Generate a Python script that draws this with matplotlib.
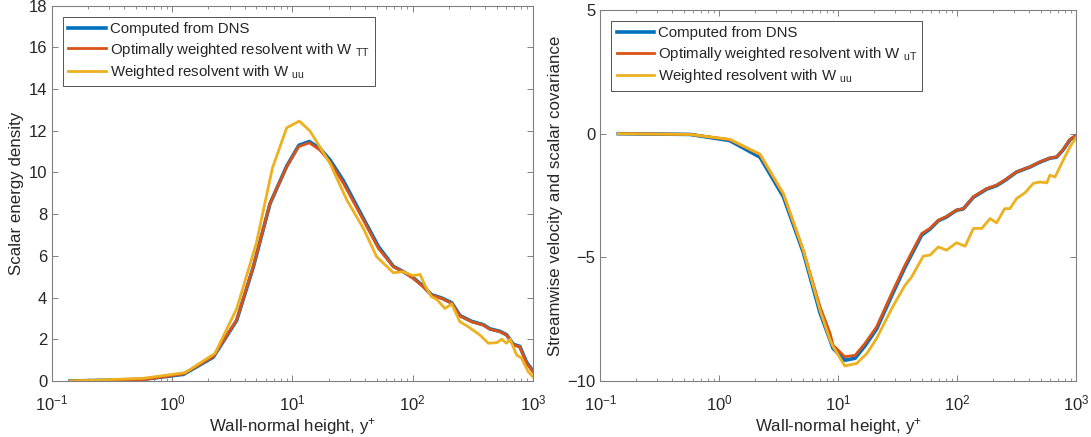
import numpy as np
import matplotlib
matplotlib.use('Agg')
import matplotlib.pyplot as plt
from matplotlib.ticker import LogLocator, NullFormatter

plt.rcParams['font.family'] = ['Liberation Sans', 'DejaVu Sans']
plt.rcParams['mathtext.fontset'] = 'custom'
plt.rcParams['mathtext.rm'] = 'Liberation Sans'
plt.rcParams['mathtext.it'] = 'Liberation Sans'
plt.rcParams['mathtext.default'] = 'regular'

# ---- panel a: scalar energy density ----
y_dns_a = [0.141, 0.57, 1.24, 2.19, 3.43, 4.72, 6.5, 8.95, 11.3, 13.8, 16.9, 20.5, 26.5,
           38.8, 51.8, 68.9, 83, 101, 122, 143, 174, 211, 247, 309, 386, 439, 532, 603,
           686, 777, 885, 1000]
e_dns = [0.0, 0.08, 0.32, 1.14, 2.9, 5.46, 8.5, 10.3, 11.3, 11.48, 11.15, 10.6, 9.6,
         7.8, 6.45, 5.5, 5.25, 4.95, 4.55, 4.14, 3.98, 3.75, 3.14, 2.86, 2.7, 2.5, 2.38,
         2.22, 1.76, 1.66, 0.9, 0.48]
y_tt_a = [0.141, 0.57, 1.24, 2.19, 3.43, 4.72, 6.5, 8.95, 11.2, 13.8, 16.9, 20.5, 26.5,
          38.8, 51.8, 68.9, 83, 101, 122, 143, 174, 211, 247, 309, 386, 439, 532, 603,
          686, 777, 885, 1000]
e_tt = [0.0, 0.06, 0.34, 1.17, 2.92, 5.48, 8.52, 10.27, 11.23, 11.42, 11.07, 10.51, 9.48,
        7.72, 6.36, 5.48, 5.24, 4.92, 4.52, 4.12, 3.96, 3.72, 3.12, 2.84, 2.68, 2.48, 2.36,
        2.2, 1.73, 1.64, 0.85, 0.45]
y_uu_a = [0.141, 0.574, 1.28, 2.27, 3.44, 5.0, 6.8, 8.95, 11.4, 14.0, 20.5, 28.3, 38.8,
          50.1, 69, 83, 101, 115, 126, 143, 158, 185, 211, 247, 290, 363, 425, 499, 550,
          603, 645, 731, 805, 912, 1000]
e_uu = [0.0, 0.13, 0.4, 1.33, 3.48, 6.6, 10.2, 12.14, 12.46, 11.98, 10.43, 8.68, 7.32,
        5.96, 5.19, 5.24, 5.05, 5.11, 4.6, 4.04, 3.92, 3.48, 3.69, 2.84, 2.6, 2.2, 1.81,
        1.84, 2.0, 1.81, 2.0, 1.25, 1.09, 0.45, 0.2]

# ---- panel b: streamwise velocity / scalar covariance ----
y_dns_b = [0.141, 0.565, 1.22, 2.19, 3.44, 5.06, 7.0, 9.0, 11.3, 13.8, 16.7, 20.9, 28,
           36.2, 50, 58.7, 69, 80, 98, 112, 136, 176, 213, 249, 314, 406, 493, 598, 680,
           774, 881, 1000]
c_dns = [0.0, -0.03, -0.28, -0.95, -2.55, -4.8, -7.25, -8.68, -9.16, -9.08, -8.58, -7.9,
         -6.55, -5.4, -4.1, -3.86, -3.52, -3.38, -3.1, -3.04, -2.57, -2.24, -2.1, -1.9,
         -1.55, -1.35, -1.15, -0.99, -0.95, -0.65, -0.25, -0.07]
y_tt_b = [0.141, 0.565, 1.22, 2.19, 3.44, 5.06, 7.0, 8.5, 9.0, 11.3, 13.8, 16.7, 20.9, 28,
          36.2, 50, 58.7, 69, 80, 98, 112, 136, 176, 213, 249, 314, 406, 493, 598, 680,
          774, 881, 1000]
c_tt = [0.0, -0.03, -0.24, -0.85, -2.45, -4.72, -7.0, -8.08, -8.55, -9.02, -8.96, -8.48,
        -7.81, -6.46, -5.32, -4.04, -3.83, -3.5, -3.36, -3.09, -3.03, -2.55, -2.22, -2.08,
        -1.88, -1.54, -1.34, -1.14, -0.98, -0.94, -0.64, -0.23, -0.06]
y_uu_b = [0.141, 0.565, 1.22, 2.19, 3.44, 5.06, 7.0, 8.5, 9.04, 11.3, 14.2, 17.3, 20.9,
          28, 36.2, 41.2, 51.6, 58.7, 69, 81, 98, 116, 136, 160, 188, 213, 249, 276, 314,
          369, 433, 493, 563, 598, 660, 774, 881, 1000]
c_uu = [0.0, -0.03, -0.23, -0.83, -2.42, -4.71, -7.14, -8.35, -8.62, -9.39, -9.29, -8.89,
        -8.28, -7.07, -6.13, -5.79, -4.95, -4.91, -4.58, -4.71, -4.41, -4.55, -3.83, -3.83,
        -3.43, -3.61, -3.03, -3.03, -2.62, -2.39, -2.01, -1.95, -1.99, -1.68, -1.75, -1.07,
        -0.53, -0.13]

c_blue = '#0072BD'
c_red = '#D95319'
c_yel = '#EDB120'
axcol = '#808080'
txtcol = '#262626'

fig = plt.figure(figsize=(10.91, 4.37), dpi=100)
ax1 = fig.add_axes([0.0477, 0.1281, 0.4408, 0.8593])
ax2 = fig.add_axes([0.5504, 0.1281, 0.4363, 0.849])


def style(ax):
    ax.set_xscale('log')
    ax.set_xlim(0.1, 1000)
    ax.xaxis.set_major_locator(LogLocator(base=10, numticks=10))
    ax.xaxis.set_minor_locator(LogLocator(base=10, subs=np.arange(2, 10), numticks=20))
    ax.xaxis.set_minor_formatter(NullFormatter())
    for s in ax.spines.values():
        s.set_color(axcol)
        s.set_linewidth(0.8)
    ax.tick_params(which='both', direction='in', top=True, right=True,
                   color=axcol, labelcolor=txtcol, labelsize=12)
    ax.tick_params(which='major', length=4, width=0.7)
    ax.tick_params(which='minor', length=2.5, width=0.6)
    ax.tick_params(axis='x', which='major', pad=9)
    ax.set_xlabel('Wall-normal height, y$^{+}$', fontsize=12.2, color=txtcol, labelpad=2)


lw = 2.0
ax1.plot(y_dns_a, e_dns, color=c_blue, lw=lw + 0.6, label='Computed from DNS')
ax1.plot(y_tt_a, e_tt, color=c_red, lw=lw,
         label=r'Optimally weighted resolvent with W $_{TT}$')
ax1.plot(y_uu_a, e_uu, color=c_yel, lw=lw, label=r'Weighted resolvent with W $_{uu}$')
style(ax1)
ax1.set_ylim(0, 18)
ax1.set_yticks(np.arange(0, 19, 2))
ax1.set_ylabel('Scalar energy density', fontsize=12.2, color=txtcol, labelpad=3)

ax2.plot(y_dns_b, c_dns, color=c_blue, lw=lw + 0.6, label='Computed from DNS')
ax2.plot(y_tt_b, c_tt, color=c_red, lw=lw,
         label=r'Optimally weighted resolvent with W $_{uT}$')
ax2.plot(y_uu_b, c_uu, color=c_yel, lw=lw, label=r'Weighted resolvent with W $_{uu}$')
style(ax2)
ax2.set_ylim(-10, 5)
ax2.set_yticks([-10, -5, 0, 5])
ax2.set_ylabel('Streamwise velocity and scalar covariance', fontsize=12.2, color=txtcol,
               labelpad=3)

for ax in (ax1, ax2):
    leg = ax.legend(loc='upper left', bbox_to_anchor=(0.023, 0.97), fontsize=10.8,
                    frameon=True, fancybox=False, edgecolor=txtcol, handlelength=2.5,
                    handletextpad=0.25, borderpad=0.35, labelspacing=0.3, borderaxespad=0.0)
    leg.get_frame().set_linewidth(0.7)
    for t in leg.get_texts():
        t.set_color(txtcol)

fig.savefig('out.png', dpi=100)
